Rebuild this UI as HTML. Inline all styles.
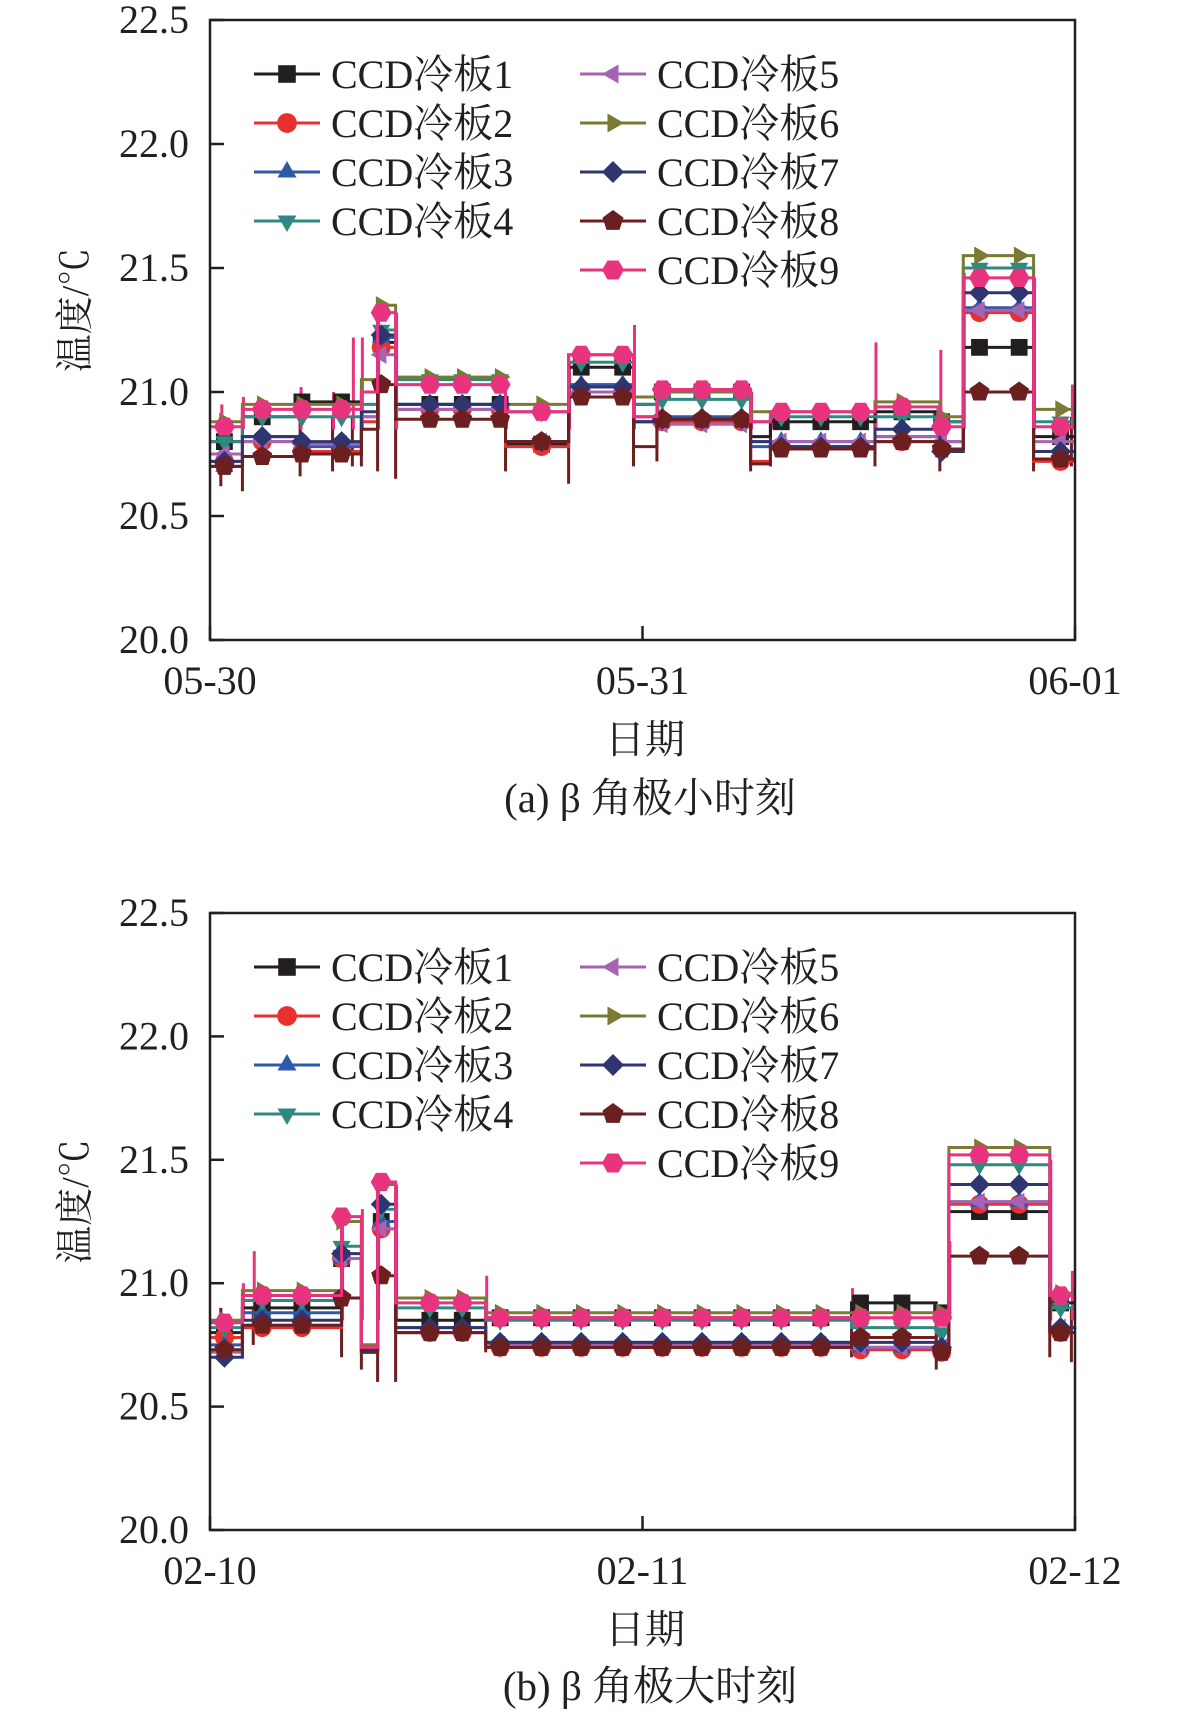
<!DOCTYPE html>
<html><head><meta charset="utf-8"><style>
html,body{margin:0;padding:0;background:#fff;}
svg{display:block;}
text{font-family:"Liberation Serif","Noto Serif CJK SC",serif;fill:#231f20;}
</style></head><body>
<svg id="chart" width="1181" height="1718" viewBox="0 0 1181 1718" xmlns="http://www.w3.org/2000/svg"></svg>
<script>
const seriesNames=["CCD冷板1","CCD冷板2","CCD冷板3","CCD冷板4","CCD冷板5","CCD冷板6","CCD冷板7","CCD冷板8","CCD冷板9"];
const yTicks=[20.0,20.5,21.0,21.5,22.0,22.5];
const xTicksA=["05-30","05-31","06-01"];
const xTicksB=["02-10","02-11","02-12"];
const markerHours=[0.8,2.9,5.1,7.3,9.5,12.2,14,16.1,18.4,20.6,22.9,25.1,27.3,29.5,31.7,33.9,36.1,38.4,40.6,42.7,44.9,47.2];
const boundsA=[0,1.8,5.0,8.4,9.3,10.3,16.4,19.9,23.5,24.8,30.0,31.1,36.9,40.5,41.8,45.7,48];
const valuesA=[
[20.80,20.90,20.96,21.00,21.20,20.95,20.79,21.10,20.95,21.00,20.82,20.88,20.92,20.88,21.18,20.82],
[20.72,20.80,20.76,20.88,21.18,20.93,20.78,21.00,20.90,20.88,20.72,20.78,20.80,20.77,21.32,20.72],
[20.70,20.82,20.78,20.90,21.22,20.95,20.80,21.03,20.88,20.90,20.78,20.80,20.82,20.80,21.34,20.76],
[20.80,20.90,20.90,20.95,21.25,21.05,20.92,21.12,20.95,20.97,20.88,20.90,20.90,20.88,21.50,20.88],
[20.75,20.80,20.79,20.90,21.15,20.93,20.80,21.00,20.88,20.87,20.80,20.80,20.82,20.80,21.33,20.80],
[20.88,20.95,20.95,21.05,21.35,21.06,20.95,21.15,20.98,21.00,20.92,20.92,20.96,20.90,21.55,20.93],
[20.72,20.82,20.80,20.92,21.23,20.95,20.80,21.02,20.88,20.89,20.80,20.78,20.85,20.76,21.40,20.76],
[20.70,20.74,20.75,20.85,21.03,20.89,20.80,20.98,20.78,20.89,20.71,20.77,20.80,20.77,21.00,20.73],
[20.86,20.93,20.93,21.00,21.32,21.03,20.92,21.15,20.90,21.01,20.88,20.92,20.94,20.86,21.46,20.86]];
const spikeHoursA=[0.6,1.8,5.0,6.8,7.9,8.4,9.3,10.3,16.4,19.9,23.5,24.8,30.0,31.1,36.9,40.5,41.8,45.7,47.8];
const spikeTopA=[20.95,20.98,21.02,21.0,21.22,21.22,21.35,21.32,20.95,21.12,21.27,20.98,21.0,20.92,21.2,21.17,21.48,21.46,21.03];
const spikeBotA=[20.62,20.6,20.66,20.68,20.7,20.7,20.68,20.65,20.68,20.63,20.7,20.72,20.68,20.7,20.7,20.68,20.78,20.68,20.7];
const boundsB=[0,1.8,7.3,8.4,9.3,10.3,15.3,35.6,40.3,41.0,46.6,48];
const valuesB=[
[20.80,20.90,21.10,20.73,21.25,20.85,20.86,20.92,20.88,21.29,20.92],
[20.78,20.82,21.10,20.72,21.22,20.80,20.74,20.73,20.72,21.32,20.80],
[20.75,20.88,21.10,20.73,21.25,20.82,20.76,20.74,20.74,21.33,20.82],
[20.82,20.93,21.15,20.75,21.30,20.90,20.85,20.82,20.80,21.48,20.90],
[20.72,20.83,21.10,20.72,21.22,20.80,20.75,20.74,20.74,21.33,20.82],
[20.85,20.97,21.25,20.75,21.40,20.94,20.88,20.88,20.88,21.55,20.96],
[20.70,20.85,21.12,20.73,21.32,20.82,20.76,20.76,20.74,21.40,20.82],
[20.73,20.83,20.94,20.72,21.03,20.80,20.74,20.78,20.72,21.11,20.80],
[20.84,20.95,21.27,20.74,21.41,20.92,20.86,20.86,20.86,21.52,20.95]];
const spikeHoursB=[0.6,1.8,2.4,7.3,8.4,9.3,10.3,15.3,35.6,40.3,41.0,46.6,47.8];
const spikeTopB=[20.88,21.0,21.13,21.27,21.3,21.41,21.4,21.03,20.98,20.9,21.17,21.5,21.05];
const spikeBotB=[20.68,20.7,20.75,20.7,20.65,20.6,20.6,20.72,20.7,20.65,20.7,20.7,20.68];
const colors=["#231f20","#e8312e","#2d5aa8","#2e8a80","#a663b3","#7a7a35","#2e3570","#6b1f1f","#e8337f"];
const shapes=["square","circle","tup","tdown","tleft","tright","diamond","pent","hex"];
const NS="http://www.w3.org/2000/svg";
const svg=document.getElementById("chart");
function mk(tag,attrs,parent){const e=document.createElementNS(NS,tag);for(const k in attrs)e.setAttribute(k,attrs[k]);(parent||svg).appendChild(e);return e;}
function markerPath(shape,cx,cy,r){
 const poly=(n,rot)=>{let p=[];for(let i=0;i<n;i++){const a=rot+i*2*Math.PI/n;p.push((cx+r*Math.cos(a)).toFixed(1)+","+(cy+r*Math.sin(a)).toFixed(1));}return p.join(" ");};
 switch(shape){
  case "square":return ["rect",{x:cx-r*0.8,y:cy-r*0.8,width:r*1.6,height:r*1.6}];
  case "circle":return ["circle",{cx:cx,cy:cy,r:r*0.9}];
  case "tup":return ["polygon",{points:poly(3,-Math.PI/2)}];
  case "tdown":return ["polygon",{points:poly(3,Math.PI/2)}];
  case "tleft":return ["polygon",{points:poly(3,Math.PI)}];
  case "tright":return ["polygon",{points:poly(3,0)}];
  case "diamond":return ["polygon",{points:poly(4,0)}];
  case "pent":return ["polygon",{points:poly(5,-Math.PI/2)}];
  default:return ["polygon",{points:poly(6,0)}];
 }
}
function valAt(bounds,vals,h){for(let i=0;i<vals.length;i++){if(h>=bounds[i]&&h<bounds[i+1])return vals[i];}return vals[vals.length-1];}
function drawChart(id,top,bottom,bounds,values,sH,sT,sB,xTicks,caption,capY){
 const L=210,R=1075;
 const xs=h=>L+(h/48)*(R-L);
 const ys=v=>bottom-(v-20)/2.5*(bottom-top);
 const g=mk("g",{});
 
 
 // spikes
 for(let i=0;i<sH.length;i++){
  const x=xs(sH[i]);
  const a=mk("line",{x1:x,x2:x,y1:ys(sB[i]),y2:ys(20.9),stroke:"#6b1f1f","stroke-width":3},g);
  
  
  const b=mk("line",{x1:x+1,x2:x+1,y1:ys(sT[i]),y2:ys(20.85),stroke:"#e8337f","stroke-width":3},g);
  
  
 }
 for(let s=0;s<9;s++){
  const sg=mk("g",{},g);
  
  
  let d="";
  const v=values[s];
  for(let i=0;i<v.length;i++){
   const x0=xs(bounds[i]),x1=xs(bounds[i+1]),y=ys(v[i]);
   d+=(i===0?"M":"L")+x0.toFixed(1)+","+y.toFixed(1)+" L"+x1.toFixed(1)+","+y.toFixed(1)+" ";
  }
  const p=mk("path",{d:d,fill:"none",stroke:colors[s],"stroke-width":3},sg);
  
  
  for(const h of markerHours){
   const [tag,at]=markerPath(shapes[s],xs(h),ys(valAt(bounds,v,h)),10.5);
   at.fill=colors[s];
   const m=mk(tag,at,sg);
   
   
  }
 }
 const box=mk("rect",{x:L,y:top,width:R-L,height:bottom-top,fill:"none",stroke:"#231f20","stroke-width":2.5},g);
 
 
 for(const t of yTicks){
  const y=ys(t);
  const tk=mk("line",{x1:L,x2:L+14,y1:y,y2:y,stroke:"#231f20","stroke-width":2.5},g);
  
  
  const tx=mk("text",{x:189,y:y+13,"text-anchor":"end","font-size":40},g);
  tx.textContent=t.toFixed(1);
  
  
 }
 xTicks.forEach((lab,i)=>{
  const x=xs(i*24);
  const tk=mk("line",{x1:x,x2:x,y1:bottom,y2:bottom-14,stroke:"#231f20","stroke-width":2.5},g);
  
  
  const tx=mk("text",{x:x,y:bottom+54,"text-anchor":"middle","font-size":40},g);
  tx.textContent=lab;
  
  
 });
 const xt=mk("text",{x:645,y:bottom+113,"text-anchor":"middle","font-size":40},g);
 xt.textContent="日期";
 
 
 const cy=(top+bottom)/2-20;
 const yt=mk("text",{x:0,y:0,"text-anchor":"middle","font-size":38,transform:"translate(88,"+cy+") rotate(-90)"},g);
 yt.textContent="温度/℃";
 
 
 const ct=mk("text",{x:650,y:capY,"text-anchor":"middle","font-size":41},g);
 ct.textContent=caption;
 
 
 for(let s=0;s<9;s++){
  const col=s<4?0:1,row=s<4?s:s-4;
  const lx=col===0?254:580, ly=top+54+row*49;
  const lg=mk("g",{},g);
  
  
  mk("line",{x1:lx,x2:lx+66,y1:ly,y2:ly,stroke:colors[s],"stroke-width":3},lg);
  const [tag,at]=markerPath(shapes[s],lx+33,ly,11);at.fill=colors[s];mk(tag,at,lg);
  const tx=mk("text",{x:lx+77,y:ly+14,"font-size":40},lg);
  tx.textContent=seriesNames[s];
 }
}
drawChart("chart-a",20,640,boundsA,valuesA,spikeHoursA,spikeTopA,spikeBotA,xTicksA,"(a) β 角极小时刻",812);
drawChart("chart-b",913,1530,boundsB,valuesB,spikeHoursB,spikeTopB,spikeBotB,xTicksB,"(b) β 角极大时刻",1700);
</script>
</body></html>
